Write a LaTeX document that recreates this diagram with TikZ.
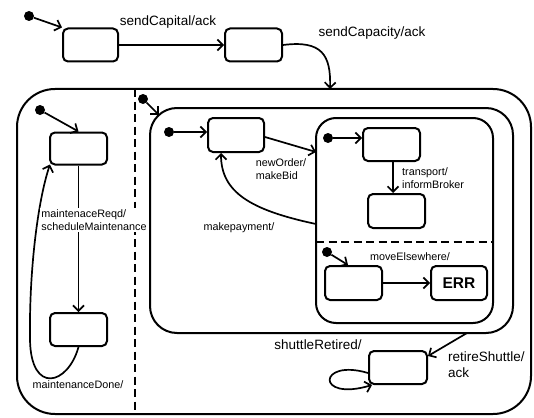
\documentclass[tikz,border=0pt]{standalone}
\usepackage{fontspec}
\setmainfont{Liberation Sans}
\usetikzlibrary{arrows.meta}
\begin{document}
\begin{tikzpicture}[x=1pt,y=-1pt,
  stbox/.style={draw, rounded corners=5pt, line width=2pt, inner sep=0pt},
  region/.style={draw, line width=2pt, inner sep=0pt},
  initdot/.style={circle, fill=black, inner sep=0pt, minimum size=10pt},
  arr/.style={line width=1.7pt, -{Straight Barb[length=5.5pt,width=11pt,line width=1.7pt]}},
  sep/.style={line width=2pt, dash pattern=on 8pt off 4.5pt},
  small/.style={font=\fontsize{10.8}{13}\selectfont, inner sep=1pt, align=left},
  big/.style={font=\fontsize{13.5}{16}\selectfont, inner sep=1pt, align=left},
  whitelab/.style={fill=white, inner sep=1.5pt}
]
\useasboundingbox (0,0) rectangle (534,417);

% composite regions
\node[region, rounded corners=38pt, minimum width=514pt, minimum height=325pt] (outer) at (274,251.5) {};
\node[region, rounded corners=27pt, minimum width=363pt, minimum height=225pt] (middle) at (331.5,220.5) {};
\node[region, rounded corners=20pt, minimum width=177pt, minimum height=205pt] (inner) at (404.5,220.5) {};

% separators
\coordinate (vs1) at (135,89);
\coordinate (vs2) at (135,414);
\draw[sep] (vs1) -- (vs2);
\coordinate (hs1) at (316,242);
\coordinate (hs2) at (493,242);
\draw[sep] (hs1) -- (hs2);

% states
\node[stbox, minimum width=55pt, minimum height=33pt] (A) at (90.5,45) {};
\node[stbox, minimum width=57pt, minimum height=33pt] (B) at (253.5,45) {};
\node[stbox, minimum width=57pt, minimum height=32pt] (C) at (78.5,148.5) {};
\node[stbox, minimum width=57pt, minimum height=33pt] (D) at (78.5,329.5) {};
\node[stbox, minimum width=56pt, minimum height=34pt] (H) at (236,135) {};
\node[stbox, minimum width=57pt, minimum height=33pt] (E) at (391.5,144.5) {};
\node[stbox, minimum width=57pt, minimum height=34pt] (F) at (396.5,211) {};
\node[stbox, minimum width=57pt, minimum height=34pt] (G) at (353.5,283) {};
\node[stbox, minimum width=56pt, minimum height=34pt, font=\fontsize{15.5}{18}\selectfont\bfseries] (ERR) at (459,283) {ERR};
\node[stbox, minimum width=58pt, minimum height=33pt] (I) at (398,367.5) {};

% initial dots
\node[initdot] (d0) at (29,16) {};
\node[initdot] (d1) at (40,110) {};
\node[initdot] (d2) at (143,99) {};
\node[initdot] (d3) at (169,132) {};
\node[initdot] (d4) at (328,138) {};
\node[initdot] (d5) at (327,252) {};

% helper coordinates
\coordinate (tOuter) at (330,89);
\coordinate (cMid) at (159,115);
\coordinate (inA) at (316,152);
\coordinate (inB) at (316,224);
\coordinate (midOut) at (467,333);

% connectors
\draw[arr] (d0) -- (A.north west);
\draw[arr] (A.east) -- (B.west);
\draw[arr] (B.east) .. controls (322,40) and (331,55) .. (tOuter);
\draw[arr] (d1) -- (C.north);
\draw[arr] (C.south) -- (D.north);
\draw[arr] (D.south) .. controls (68,385) and (31,395) .. (30,340)
   .. controls (29,270) and (38,200) .. ([xshift=1pt,yshift=1pt]C.south west);
\draw[arr] (d2) -- (cMid);
\draw[arr] (d3) -- (d3 -| H.west);
\draw[arr] ([yshift=-2pt]H.east) -- (inA);
\draw[arr] (inB) .. controls (250,210) and (221,192) .. ([xshift=-15pt]H.south);
\draw[arr] (d4) -- (d4 -| E.west);
\draw[arr] ([xshift=1.5pt]E.south) -- ([xshift=1.5pt]E.south |- F.north);
\draw[arr] (d5) -- ([xshift=-5.5pt]G.north);
\draw[arr] (G.east) -- (ERR.west);
\draw[arr] (midOut) -- ([yshift=-6pt]I.north east);
\draw[arr] ([yshift=-5.5pt]I.west) .. controls (318,358) and (315,402) .. ([xshift=4pt]I.south west);

% labels
\node[big] (l1) at (168,22) {sendCapital/ack};
\node[big] (l2) at (372,33) {sendCapacity/ack};
\node[small, whitelab] (l3) at (94,220) {maintenaceReqd/\\scheduleMaintenance};
\node[small, whitelab] (l4) at (78,385) {maintenanceDone/};
\node[small] (l5) at (281,169) {newOrder/\\makeBid};
\node[small] (l6) at (239,228) {makepayment/};
\node[small, anchor=west] (l7) at (401,178) {transport/\\informBroker};
\node[small] (l8) at (410,257) {moveElsewhere/};
\node[big] (l9) at (318,345) {shuttleRetired/};
\node[big, anchor=west] (l10) at (447,365) {retireShuttle/\\ack};
\end{tikzpicture}
\end{document}
